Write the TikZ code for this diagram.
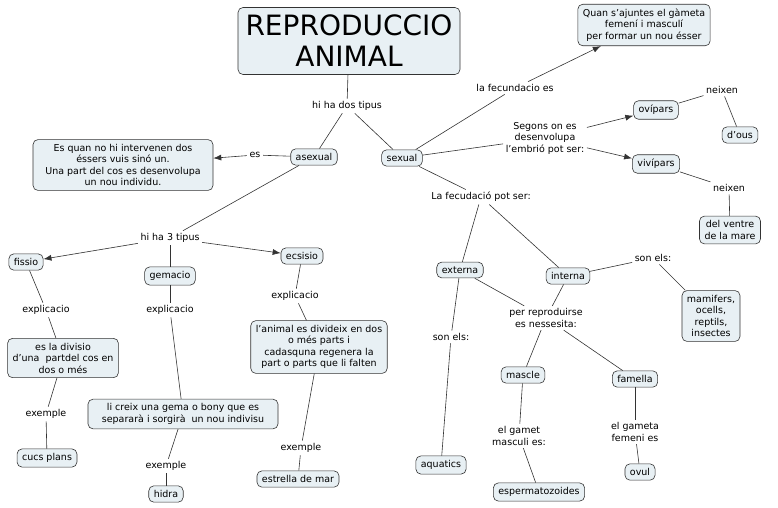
\documentclass[tikz,border=0pt]{standalone}
\usepackage{fontspec}
\setmainfont{DejaVu Sans}
\usetikzlibrary{arrows.meta}
\definecolor{bx}{HTML}{E8F0F4}
\begin{document}
\begin{tikzpicture}[x=1pt,y=-1pt,
 box/.style={draw=black!80,fill=bx,rounded corners=5pt,font=\fontsize{9.5}{11.5}\selectfont,align=center,inner xsep=5pt,inner ysep=4.5pt,line width=0.6pt},
 lbl/.style={font=\fontsize{9.5}{11.5}\selectfont,align=center,inner sep=2.5pt},
 ln/.style={draw=black!80,line width=0.6pt},
 ar/.style={ln,-{Latex[length=8pt,width=6pt]}}]
\useasboundingbox (0,0) rectangle (778,507);
\node[box,font=\fontsize{28}{31}\selectfont,minimum width=222pt,minimum height=67pt,inner sep=2pt] (t) at (349,41) {REPRODUCCIO\\ANIMAL};
\node[lbl] (l1) at (347,106) {hi ha dos tipus};
\node[box] (as) at (314,157) {asexual};
\node[box] (sx) at (402,158) {sexual};
\node[box,minimum width=180pt] (esq) at (123,165) {Es quan no hi intervenen dos\\éssers vuis sinó un.\\Una part del cos es desenvolupa\\un nou individu.};
\node[lbl] (es) at (255,155) {es};
\node[lbl] (h3) at (170,238) {hi ha 3 tipus};
\node[box] (fi) at (26,262) {fissio};
\node[box] (ge) at (170,276) {gemacio};
\node[box] (ec) at (302,256) {ecsisio};
\node[lbl] (e1) at (46,310) {explicacio};
\node[box] (b1) at (63,358) {es la divisio\\d'una~ partdel cos en\\dos o més};
\node[lbl] (x1) at (46,414) {exemple};
\node[box] (cu) at (47,458) {cucs plans};
\node[lbl] (e2) at (170,310) {explicacio};
\node[box,minimum width=190pt] (b2) at (183,414) {li creix una gema o bony que es\\separarà i sorgirà~ un nou indivisu};
\node[lbl] (x2) at (166,466) {exemple};
\node[box] (hi) at (166,494) {hidra};
\node[lbl] (e3) at (295,296) {explicacio};
\node[box] (b3) at (319,347) {l'animal es divideix en dos\\o més parts i\\cadasquna regenera la\\part o parts que li falten};
\node[lbl] (x3) at (301,448) {exemple};
\node[box] (est) at (298,479) {estrella de mar};
\node[box] (qu) at (644,25) {Quan s'ajuntes el gàmeta\\femení i masculí\\per formar un nou ésser};
\node[lbl] (lf) at (515,88) {la fecundacio es};
\node[lbl] (sg) at (545,138) {Segons on es\\desenvolupa\\l'embrió pot ser:};
\node[box] (ov) at (656,110) {ovípars};
\node[lbl] (n1) at (722,90) {neixen};
\node[box] (do) at (740,135) {d'ous};
\node[box] (vi) at (656,164) {vivípars};
\node[lbl] (n2) at (729,188) {neixen};
\node[box] (dv) at (730,230) {del ventre\\de la mare};
\node[lbl] (fp) at (481,197) {La fecudació pot ser:};
\node[box] (ex) at (460,270) {externa};
\node[box] (in) at (568,276) {interna};
\node[lbl] (s1) at (653,258) {son els:};
\node[box] (ma) at (711,316) {mamifers,\\ocells,\\reptils,\\insectes};
\node[lbl] (s2) at (451,337) {son els:};
\node[box] (aq) at (441,465) {aquatics};
\node[lbl] (pr) at (546,318) {per reproduirse\\es nessesita:};
\node[box] (msc) at (523,375) {mascle};
\node[box] (fe) at (635,379) {famella};
\node[lbl] (gm) at (519,436) {el gamet\\masculi es:};
\node[box] (sp) at (539,492) {espermatozoides};
\node[lbl] (gf) at (635,432) {el gameta\\femeni es};
\node[box] (ovu) at (640,472) {ovul};
\draw[ln] (t) -- (l1); \draw[ln] (l1) -- (as); \draw[ln] (l1) -- (sx);
\draw[ln] (as) -- (es); \draw[ar] (es) -- (esq);
\draw[ln] (as) -- (h3); \draw[ar] (h3) -- (fi); \draw[ar] (h3) -- (ec); \draw[ln] (h3) -- (ge);
\draw[ln] (fi) -- (e1); \draw[ln] (e1) -- (b1); \draw[ln] (b1) -- (x1); \draw[ln] (x1) -- (cu);
\draw[ln] (ge) -- (e2); \draw[ln] (e2) -- (b2); \draw[ln] (b2) -- (x2); \draw[ln] (x2) -- (hi);
\draw[ln] (ec) -- (e3); \draw[ln] (e3) -- (b3); \draw[ln] (b3) -- (x3); \draw[ln] (x3) -- (est);
\draw[ln] (sx) -- (lf); \draw[ar] (lf) -- (qu);
\draw[ln] (sx) -- (sg); \draw[ar] (sg) -- (ov); \draw[ar] (sg) -- (vi);
\draw[ln] (ov) -- (n1); \draw[ln] (n1) -- (do);
\draw[ln] (vi) -- (n2); \draw[ln] (n2) -- (dv);
\draw[ln] (sx) -- (fp); \draw[ln] (fp) -- (ex); \draw[ln] (fp) -- (in);
\draw[ln] (in) -- (s1); \draw[ln] (s1) -- (ma);
\draw[ln] (ex) -- (s2); \draw[ln] (s2) -- (aq);
\draw[ln] (ex) -- (pr); \draw[ln] (in) -- (pr);
\draw[ln] (pr) -- (msc); \draw[ln] (pr) -- (fe);
\draw[ln] (msc) -- (gm); \draw[ln] (gm) -- (sp);
\draw[ln] (fe) -- (gf); \draw[ln] (gf) -- (ovu);
\end{tikzpicture}
\end{document}
